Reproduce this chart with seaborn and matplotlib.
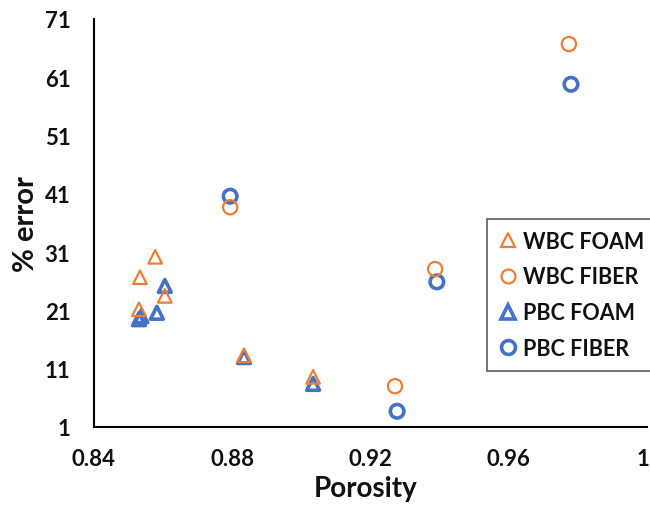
import matplotlib
matplotlib.use("Agg")
import matplotlib.pyplot as plt
from matplotlib.lines import Line2D
from matplotlib.ticker import MultipleLocator
from matplotlib.transforms import ScaledTranslation
import seaborn as sns
import pandas as pd

# ---- data ----
wbc_foam_x = [0.8577, 0.8533, 0.8605, 0.8530, 0.8834, 0.9034]
wbc_foam_y = [30.2, 26.7, 23.5, 21.2, 13.3, 9.6]
pbc_foam_x = [0.8605, 0.8582, 0.8530, 0.8537, 0.8834, 0.9034]
pbc_foam_y = [25.2, 20.6, 19.5, 20.0, 13.0, 8.4]
wbc_fiber_x = [0.8794, 0.9387, 0.9271, 0.9774]
wbc_fiber_y = [38.7, 28.1, 8.0, 66.7]
pbc_fiber_x = [0.8794, 0.9392, 0.9277, 0.9780]
pbc_fiber_y = [40.6, 25.9, 3.7, 59.8]

series_names = ["WBC FOAM", "WBC FIBER", "PBC FOAM", "PBC FIBER"]
x_ticks = [0.84, 0.88, 0.92, 0.96, 1.0]
x_tick_labels = ["0.84", "0.88", "0.92", "0.96", "1"]
y_ticks = [1, 11, 21, 31, 41, 51, 61, 71]

ORANGE = "#ED7D31"
BLUE = "#4472C4"

sns.set_style("white")
plt.rcParams["font.family"] = ["Lato", "DejaVu Sans"]

fig = plt.figure(figsize=(6.5, 5.06), dpi=100)
ax = fig.add_axes([94 / 650, 1 - 428 / 506, 553 / 650, 408 / 506])

styles = {
    "WBC FOAM": dict(x=wbc_foam_x, y=wbc_foam_y, marker="^", color=ORANGE, lw=1.6, s=95, z=4),
    "WBC FIBER": dict(x=wbc_fiber_x, y=wbc_fiber_y, marker="o", color=ORANGE, lw=1.6, s=105, z=4),
    "PBC FOAM": dict(x=pbc_foam_x, y=pbc_foam_y, marker="^", color=BLUE, lw=2.6, s=85, z=3),
    "PBC FIBER": dict(x=pbc_fiber_x, y=pbc_fiber_y, marker="o", color=BLUE, lw=2.6, s=95, z=3),
}

handles = []
for name in series_names:
    st = styles[name]
    df = pd.DataFrame({"Porosity": st["x"], "err": st["y"]})
    sns.scatterplot(data=df, x="Porosity", y="err", ax=ax, marker=st["marker"],
                    s=st["s"], facecolor="none", edgecolor=st["color"],
                    linewidth=st["lw"], zorder=st["z"], legend=False)
    handles.append(Line2D([], [], linestyle="none", marker=st["marker"],
                          markersize=10, markerfacecolor="none",
                          markeredgecolor=st["color"], markeredgewidth=st["lw"],
                          label=name))

ax.set_xlim(0.84, 1.0)
ax.set_ylim(1, 71)
ax.set_xticks(x_ticks)
ax.set_xticklabels(x_tick_labels)
ax.set_yticks(y_ticks)
ax.xaxis.set_minor_locator(MultipleLocator(0.008))
ax.yaxis.set_minor_locator(MultipleLocator(2))

for side in ["top", "right"]:
    ax.spines[side].set_visible(False)
for side in ["left", "bottom"]:
    ax.spines[side].set_color("black")
    ax.spines[side].set_linewidth(1.5)

ax.tick_params(which="major", direction="inout", length=12, width=1.5,
               colors="black", labelsize=16, pad=9)
ax.tick_params(which="minor", direction="in", length=5, width=1.3, colors="black")
ax.tick_params(axis="y", which="major", pad=11)
for lab in ax.get_xticklabels() + ax.get_yticklabels():
    lab.set_fontweight("bold")
    lab.set_color("#111111")
# nudge the last x tick label so it stays inside the canvas
last = ax.get_xticklabels()[-1]
last.set_transform(last.get_transform() + ScaledTranslation(-4 / 100, 0, fig.dpi_scale_trans))

ax.set_xlabel("Porosity", fontsize=20, fontweight="bold", color="#111111")
ax.set_ylabel("% error", fontsize=21, fontweight="bold", color="#111111")
ax.xaxis.set_label_coords(0.492, -0.118)
ax.yaxis.set_label_coords(-0.100, 0.5)

leg = ax.legend(handles=handles, loc="upper left", bbox_to_anchor=(0.711, 0.51),
                frameon=True, fancybox=False, edgecolor="#333333",
                prop={"family": ["Lato", "DejaVu Sans"], "weight": "bold", "size": 15.5},
                handlelength=0.8, handletextpad=0.3, labelspacing=0.68,
                borderpad=0.55, borderaxespad=0)
leg.get_frame().set_linewidth(1.2)
for t in leg.get_texts():
    t.set_color("#111111")

fig.savefig("out.png", dpi=100)
